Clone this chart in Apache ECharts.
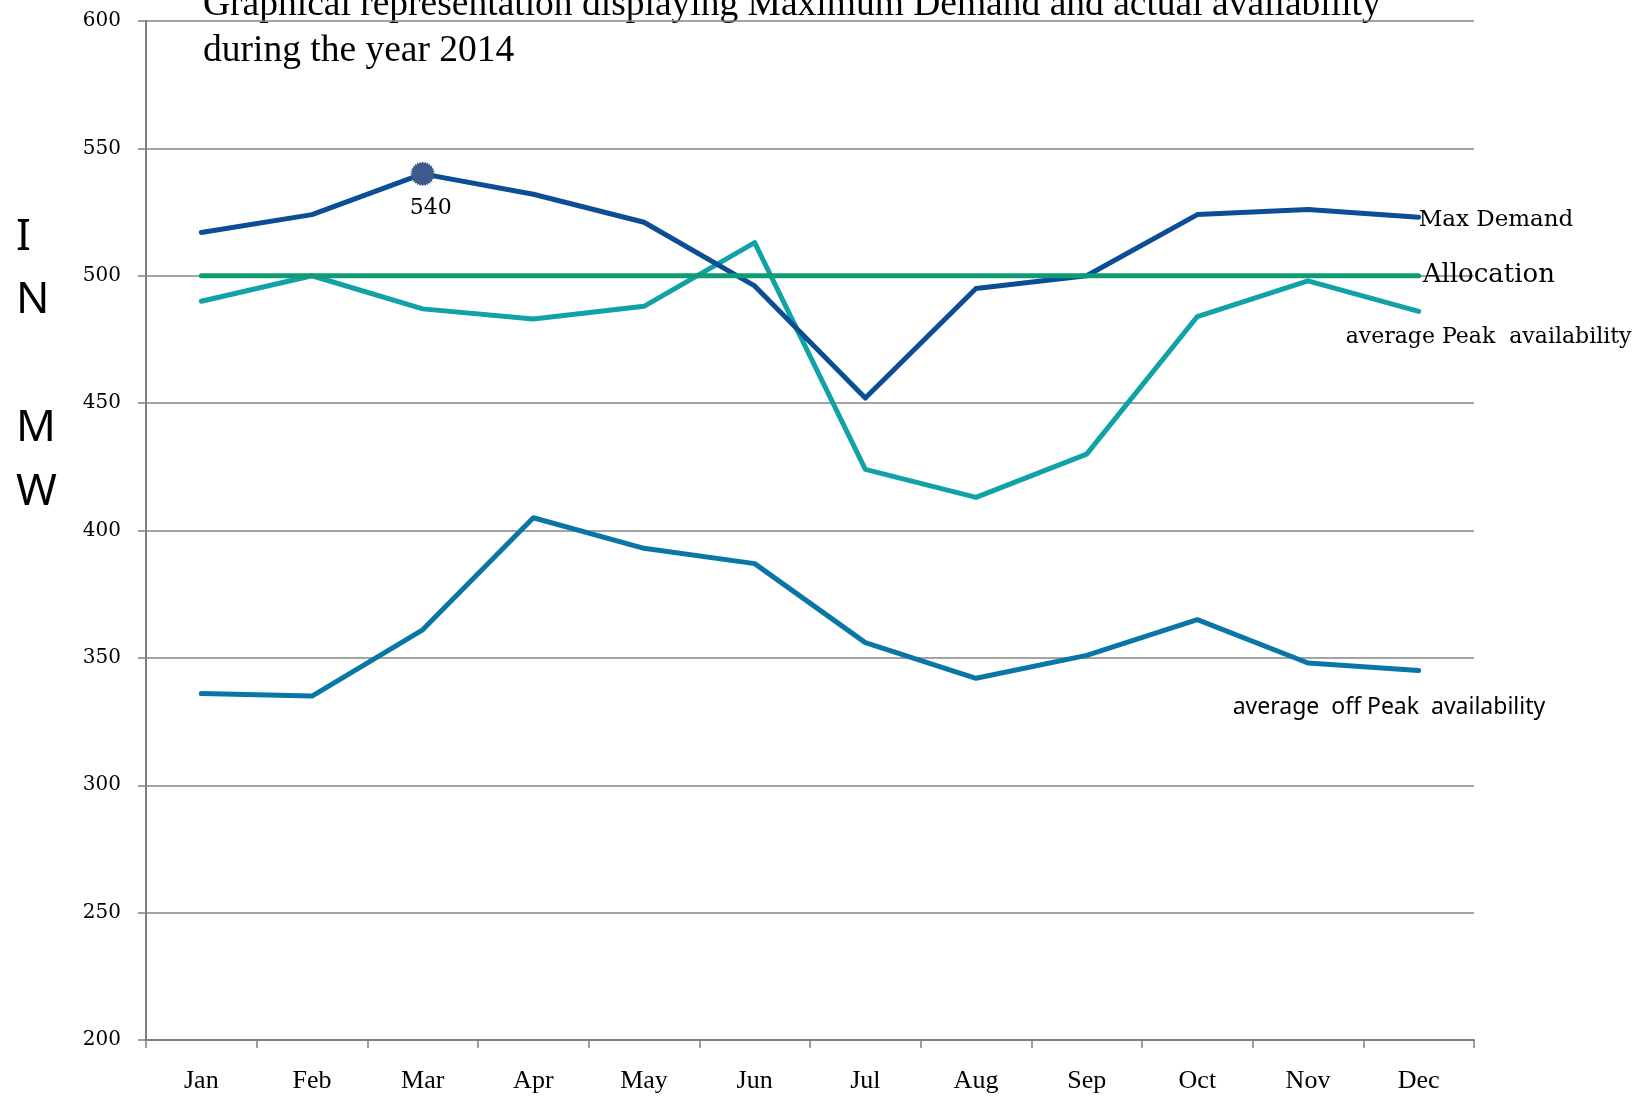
<!DOCTYPE html>
<html>
<head>
<meta charset="utf-8">
<script src="https://cdn.jsdelivr.net/npm/echarts@6/dist/echarts.min.js"></script>
<style>
html,body{margin:0;padding:0;background:#fff;}
#chart{width:1647px;height:1102px;}
</style>
</head>
<body>
<div id="chart"></div>
<script>
var months = ['Jan','Feb','Mar','Apr','May','Jun','Jul','Aug','Sep','Oct','Nov','Dec'];
var maxDemand = [517, 524, 540, 532, 521, 496, 452, 495, 500, 524, 526, 523];
var allocation = [500, 500, 500, 500, 500, 500, 500, 500, 500, 500, 500, 500];
var peakAvail = [490, 500, 487, 483, 488, 513, 424, 413, 430, 484, 498, 486];
var offPeakAvail = [336, 335, 361, 405, 393, 387, 356, 342, 351, 365, 348, 345];
var yTicks = [200, 250, 300, 350, 400, 450, 500, 550, 600];
var titleLines = ['Graphical representation displaying Maximum Demand and actual availability', 'during the year 2014'];
var yNameLetters = ['I', 'N', 'M', 'W'];

// starburst symbol path
var star = (function(){
  var n = 28, pts = [];
  for (var i = 0; i < n * 2; i++) {
    var r = (i % 2 === 0) ? 50 : 43;
    var a = Math.PI * i / n;
    pts.push((50 + r * Math.cos(a)).toFixed(2) + ' ' + (50 + r * Math.sin(a)).toFixed(2));
  }
  return 'path://M' + pts.join(' L') + ' Z';
})();

var chart = echarts.init(document.getElementById('chart'));
var serif = 'DejaVu Serif';
var axisGray = '#7f7f7f';

var graphics = [
  {type:'text', left:203, top:-14, style:{text:titleLines[0], font:'37.5px "Liberation Serif"', fill:'#000'}},
  {type:'text', left:203, top:32, style:{text:titleLines[1], font:'37.5px "Liberation Serif"', fill:'#000'}}
];
var letterY = [237, 300, 428, 492];
yNameLetters.forEach(function(l, i){
  graphics.push({type:'text', x:16, y:letterY[i], style:{text:l, font:'44px "Noto Sans"', fill:'#000', verticalAlign:'middle', align:'left'}});
});

var option = {
  backgroundColor:'#fff',
  animation:false,
  grid:{left:146, right:173, top:21, bottom:62, containLabel:false},
  xAxis:{
    type:'category', data:months, boundaryGap:true,
    axisLine:{lineStyle:{color:axisGray, width:2}},
    axisTick:{show:true, length:8, lineStyle:{color:axisGray, width:1.5}},
    axisLabel:{color:'#000', fontFamily:'Liberation Serif', fontSize:26, margin:28, interval:0}
  },
  yAxis:{
    type:'value', min:200, max:600, interval:50,
    axisLine:{show:true, lineStyle:{color:axisGray, width:2}},
    axisTick:{show:true, length:8, lineStyle:{color:axisGray, width:1.5}},
    axisLabel:{color:'#000', fontFamily:serif, fontSize:20, margin:25,
      formatter:function(v){ return yTicks.indexOf(v) >= 0 ? String(v) : ''; }},
    splitLine:{show:true, lineStyle:{color:'#868686', width:1.5}}
  },
  series:[
    {
      name:'average  off Peak  availability', type:'line', data:offPeakAvail,
      showSymbol:false, lineStyle:{color:'#0a76a6', width:5, cap:'round', join:'round'},
      itemStyle:{color:'#0a76a6'},
      endLabel:{show:true, formatter:'{a}', distance:0, offset:[-186, 37],
        fontFamily:'Noto Sans', fontSize:23, color:'#000'}
    },
    {
      name:'average Peak  availability', type:'line', data:peakAvail,
      showSymbol:false, lineStyle:{color:'#10a2a6', width:5, cap:'round', join:'round'},
      itemStyle:{color:'#10a2a6'},
      endLabel:{show:true, formatter:'{a}', distance:0, offset:[-73, 26],
        fontFamily:serif, fontSize:22, color:'#000'}
    },
    {
      name:'Max Demand', type:'line', data:maxDemand,
      showSymbol:false, lineStyle:{color:'#0b4e96', width:5, cap:'round', join:'round'},
      itemStyle:{color:'#0b4e96'},
      endLabel:{show:true, formatter:'{a}', distance:0, offset:[0, 3],
        fontFamily:serif, fontSize:23, color:'#000'},
      markPoint:{
        symbol:star, symbolSize:25,
        itemStyle:{color:'#3d5a8c'},
        label:{show:true, position:'bottom', distance:11, offset:[8,0],
          fontFamily:serif, fontSize:22, color:'#000', formatter:function(p){return String(p.value);}},
        data:[{coord:[months[2], maxDemand[2]], value:maxDemand[2]}]
      }
    },
    {
      name:'Allocation', type:'line', data:allocation,
      showSymbol:false, lineStyle:{color:'#0f9c73', width:5, cap:'round'},
      itemStyle:{color:'#0f9c73'},
      endLabel:{show:true, formatter:'{a}', distance:4, offset:[0,-1],
        fontFamily:serif, fontSize:26, color:'#000'}
    }
  ],
  graphic:graphics
};
chart.setOption(option);
</script>
</body>
</html>
